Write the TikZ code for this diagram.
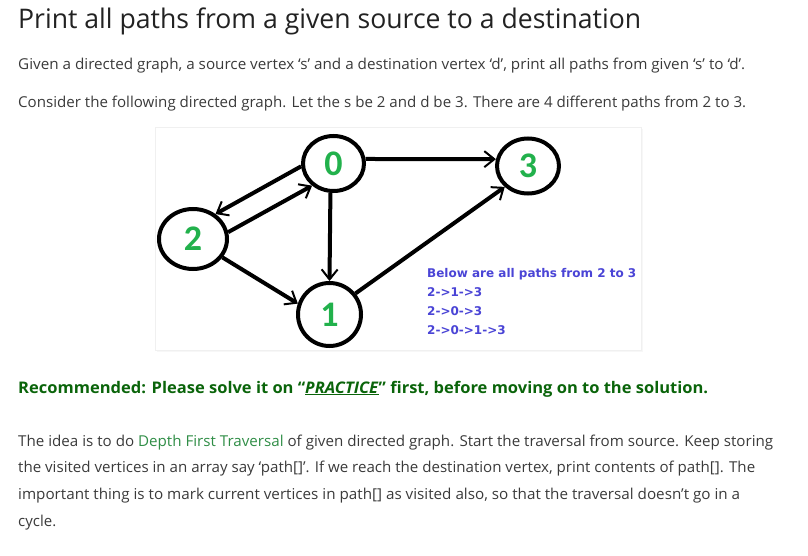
\documentclass[tikz,border=0pt]{standalone}
\usepackage{fontspec}
\setmainfont{Open Sans}
\newfontfamily\digitfont{Carlito}
\newfontfamily\notefont{DejaVu Sans}
\usepackage{graphicx}
\usepackage{xcolor}
\usetikzlibrary{arrows.meta, positioning, shapes.geometric}
\definecolor{titlegray}{HTML}{222222}
\definecolor{bodygray}{HTML}{3A3A3A}
\definecolor{digitgreen}{HTML}{22B14C}
\definecolor{recgreen}{HTML}{0A640A}
\definecolor{linkgreen}{HTML}{2F8D46}
\definecolor{noteblue}{HTML}{4A44D6}
\newcommand{\fitline}[2]{\resizebox{#1}{\height}{#2}}

\begin{document}
\begin{tikzpicture}[
    x=1pt, y=-1pt,
    textline/.style={anchor=base west, inner sep=0pt, text=bodygray, font=\fontsize{15}{18}\selectfont},
    vertex/.style={ellipse, draw, line width=4pt, inner sep=0pt, text=digitgreen, font=\digitfont\bfseries\fontsize{36}{36}\selectfont},
    edge/.style={line width=4pt, -{Straight Barb[length=10pt, width=16pt, line width=2pt]}},
    note/.style={anchor=base west, inner sep=0pt, text=noteblue, font=\notefont\bfseries\fontsize{12}{14}\selectfont}
]
    \useasboundingbox (0,0) rectangle (808,556);

    % heading and intro
    \node[textline, text=titlegray, font=\fontsize{27}{30}\selectfont] (title) at (18,29) {\fitline{623pt}{Print all paths from a given source to a destination}};
    \node[textline] (given) at (18,70) {\fitline{727pt}{Given a directed graph, a source vertex ‘s’ and a destination vertex ‘d’, print all paths from given ‘s’ to ‘d’.}};
    \node[textline] (consider) at (18,108) {\fitline{728pt}{Consider the following directed graph. Let the s be 2 and d be 3. There are 4 different paths from 2 to 3.}};

    % picture frame
    \fill[black!3] (157,129) rectangle (643,352);
    \draw[black!6, fill=white] (155,127) rectangle (641,350);

    % vertices
    \node[vertex, minimum width=61pt, minimum height=55pt] (n0) at (333.5,163.5) {0};
    \node[vertex, minimum width=62pt, minimum height=55pt] (n3) at (528,166) {3};
    \node[vertex, minimum width=68pt, minimum height=60pt] (n2) at (193,239) {2};
    \node[vertex, minimum width=63pt, minimum height=63pt] (n1) at (329.5,314.5) {1};

    % edges
    \draw[edge] (n0.8) -- (n3.168);
    \draw[edge] (n0.185) -- (n2.48);
    \draw[edge] (n2.11) -- (n0.226);
    \draw[edge] (n0.-96) -- (n1.north);
    \draw[edge] (n2.-32) -- (n1.161);
    \draw[edge] (n1.39) -- (n3.222);

    % paths list
    \node[note] (p0) at (427,277) {Below are all paths from 2 to 3};
    \node[note] (p1) at (427,296) {2->1->3};
    \node[note] (p2) at (427,315) {2->0->3};
    \node[note] (p3) at (427,334) {2->0->1->3};

    % recommendation
    \node[textline, text=recgreen, font=\bfseries\fontsize{16}{19}\selectfont] (rec) at (18,393) {\fitline{690pt}{Recommended: Please solve it on “\underline{\textit{PRACTICE}}” first, before moving on to the solution.}};

    % explanation
    \node[textline] (idea1) at (18,446) {\fitline{755pt}{The idea is to do \textcolor{linkgreen}{Depth First Traversal} of given directed graph. Start the traversal from source. Keep storing}};
    \node[textline] (idea2) at (18,472) {\fitline{737pt}{the visited vertices in an array say ‘path[]’. If we reach the destination vertex, print contents of path[]. The}};
    \node[textline] (idea3) at (18,499) {\fitline{722pt}{important thing is to mark current vertices in path[] as visited also, so that the traversal doesn’t go in a}};
    \node[textline] (idea4) at (18,526) {cycle.};
\end{tikzpicture}
\end{document}
